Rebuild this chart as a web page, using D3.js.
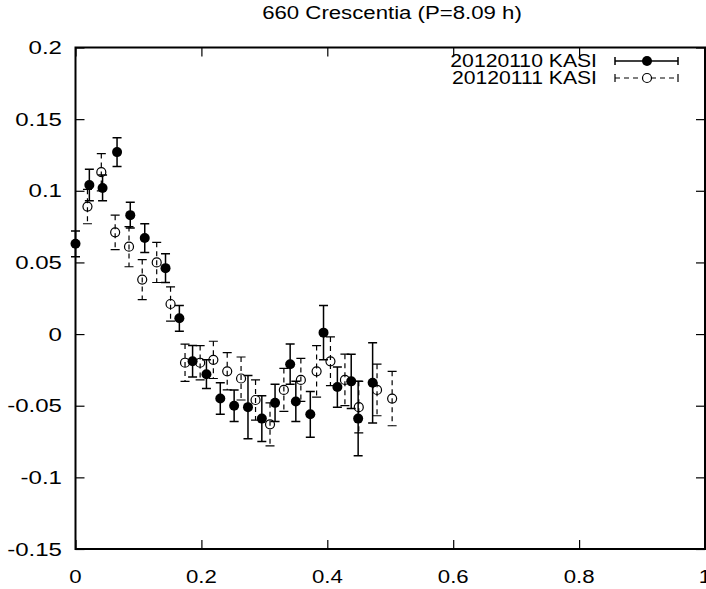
<!DOCTYPE html>
<html>
<head>
<meta charset="utf-8">
<script src="https://cdn.jsdelivr.net/npm/d3@7"></script>
<style>
  body { margin: 0; background: #fff; }
  #root { width: 706px; height: 589px; }
  text { font-family: "Liberation Sans", Arial, sans-serif; fill: #000; }
</style>
</head>
<body>
<div id="root"></div>
<script>
const root = document.getElementById('root');

// 20120110 KASI (filled)
const phase1 = [0.000, 0.022, 0.043, 0.066, 0.087, 0.110, 0.143, 0.165, 0.186, 0.208, 0.230, 0.252,
                0.274, 0.296, 0.317, 0.341, 0.350, 0.373, 0.394, 0.416, 0.438, 0.449, 0.472];
const mag1 = [0.063, 0.104, 0.102, 0.127, 0.083, 0.067, 0.046, 0.011, -0.019, -0.028, -0.045, -0.050,
              -0.051, -0.059, -0.048, -0.021, -0.047, -0.056, 0.001, -0.037, -0.033, -0.059, -0.034];
const err1 = [0.009, 0.011, 0.009, 0.010, 0.009, 0.010, 0.010, 0.009, 0.011, 0.010, 0.011, 0.011,
              0.022, 0.016, 0.013, 0.014, 0.014, 0.016, 0.019, 0.014, 0.019, 0.026, 0.028];

// 20120111 KASI (open)
const phase2 = [0.019, 0.041, 0.063, 0.085, 0.106, 0.129, 0.151, 0.174, 0.198, 0.219, 0.241,
                0.263, 0.286, 0.309, 0.331, 0.358, 0.383, 0.405, 0.428, 0.450, 0.479, 0.503];
const mag2 = [0.089, 0.113, 0.071, 0.061, 0.038, 0.050, 0.021, -0.020, -0.020, -0.018, -0.026,
              -0.031, -0.046, -0.063, -0.039, -0.032, -0.026, -0.019, -0.032, -0.051, -0.039, -0.045];
const err2 = [0.012, 0.013, 0.012, 0.014, 0.014, 0.014, 0.012, 0.013, 0.012, 0.013, 0.013,
              0.015, 0.014, 0.015, 0.015, 0.015, 0.018, 0.017, 0.018, 0.018, 0.018, 0.019];

const xTicks = [0, 0.2, 0.4, 0.6, 0.8, 1];
const yTicks = [-0.15, -0.1, -0.05, 0, 0.05, 0.1, 0.15, 0.2];
const seriesNames = ['20120110 KASI', '20120111 KASI'];
const title = '660 Crescentia (P=8.09 h)';

const width = 706;
const height = 589;
const plotL = 75.5, plotR = 705, plotT = 47.5, plotB = 549;
const tickLen = 9;
const cap = 4.5;
const fontSize = 18.5;
const stretch = 1.2;   // the reference lettering is a bit wide

const svg = d3.select(root)
    .append('svg')
    .attr('width', width)
    .attr('height', height);

const x = d3.scaleLinear().domain([0, 1]).range([plotL, plotR]);
const y = d3.scaleLinear().domain([-0.15, 0.2]).range([plotB, plotT]);

const fmt = d => String(+d.toFixed(2));

// text drawn widened around its anchor point
const wideText = (sel, tx, ty, anchor, sx, str, size) =>
    sel.append('text')
        .attr('transform', `translate(${tx},${ty}) scale(${sx},1)`)
        .attr('text-anchor', anchor)
        .style('font-size', `${size || fontSize}px`)
        .text(str);

// Axes (inward ticks, mirrored)
svg.append('g')
    .attr('transform', `translate(0,${plotB})`)
    .call(d3.axisTop(x).tickValues(xTicks).tickSize(tickLen).tickFormat(''))
    .call(g => g.select('.domain').remove());
svg.append('g')
    .attr('transform', `translate(0,${plotT})`)
    .call(d3.axisBottom(x).tickValues(xTicks).tickSize(tickLen).tickFormat(''))
    .call(g => g.select('.domain').remove());
svg.append('g')
    .attr('transform', `translate(${plotL},0)`)
    .call(d3.axisRight(y).tickValues(yTicks).tickSize(tickLen).tickFormat(''))
    .call(g => g.select('.domain').remove());
svg.append('g')
    .attr('transform', `translate(${plotR},0)`)
    .call(d3.axisLeft(y).tickValues(yTicks).tickSize(tickLen).tickFormat(''))
    .call(g => g.select('.domain').remove());
svg.selectAll('.tick line').attr('stroke', '#000').attr('stroke-width', 1.2);

// tick labels
const xLab = svg.append('g');
xTicks.forEach(d => wideText(xLab, x(d), 583, 'middle', stretch, fmt(d)));
const yLab = svg.append('g');
yTicks.forEach(d => wideText(yLab, 62, y(d) + 6.6, 'end', 1.3, fmt(d)));

wideText(svg, 392, 19, 'middle', stretch, title);

// Series 2: dashed error bars, open circles
const s2 = d3.range(phase2.length).map(i => ({ x: phase2[i], y: mag2[i], e: err2[i] }));
const g2 = svg.append('g').attr('stroke', '#000').attr('fill', 'none').attr('stroke-width', 1.2);
g2.selectAll('path.bar')
    .data(s2)
    .join('path')
    .attr('class', 'bar')
    .attr('stroke-dasharray', '5,4')
    .attr('d', d => `M${x(d.x)},${y(d.y + d.e)}V${y(d.y - d.e)}`);
g2.selectAll('path.cap')
    .data(s2)
    .join('path')
    .attr('class', 'cap')
    .attr('d', d => `M${x(d.x) - cap},${y(d.y + d.e)}H${x(d.x) + cap}M${x(d.x) - cap},${y(d.y - d.e)}H${x(d.x) + cap}`);
g2.selectAll('circle')
    .data(s2)
    .join('circle')
    .attr('cx', d => x(d.x))
    .attr('cy', d => y(d.y))
    .attr('r', 4.5);

// Series 1: solid error bars, filled circles
const s1 = d3.range(phase1.length).map(i => ({ x: phase1[i], y: mag1[i], e: err1[i] }));
const g1 = svg.append('g').attr('stroke', '#000').attr('stroke-width', 1.5);
g1.selectAll('path')
    .data(s1)
    .join('path')
    .attr('fill', 'none')
    .attr('d', d => `M${x(d.x)},${y(d.y + d.e)}V${y(d.y - d.e)}M${x(d.x) - cap},${y(d.y + d.e)}H${x(d.x) + cap}M${x(d.x) - cap},${y(d.y - d.e)}H${x(d.x) + cap}`);
g1.selectAll('circle')
    .data(s1)
    .join('circle')
    .attr('cx', d => x(d.x))
    .attr('cy', d => y(d.y))
    .attr('r', 5)
    .attr('fill', '#000')
    .attr('stroke', 'none');

// Legend
const legY = [61, 78];
const legend = svg.append('g');
seriesNames.forEach((name, i) => {
    wideText(legend, 597, legY[i] + 6.2, 'end', 1.21, name, 17.5);
    legend.append('path')
        .attr('stroke', '#000')
        .attr('fill', 'none')
        .attr('stroke-width', i === 0 ? 1.5 : 1.2)
        .attr('stroke-dasharray', i === 0 ? null : '5,4')
        .attr('d', `M615,${legY[i]}H678`);
    legend.append('path')
        .attr('stroke', '#000')
        .attr('stroke-width', i === 0 ? 1.5 : 1.2)
        .attr('d', `M615,${legY[i] - 4}V${legY[i] + 4}M678,${legY[i] - 4}V${legY[i] + 4}`);
    legend.append('circle')
        .attr('cx', 647)
        .attr('cy', legY[i])
        .attr('r', i === 0 ? 5 : 4.5)
        .attr('fill', i === 0 ? '#000' : '#fff')
        .attr('stroke', '#000')
        .attr('stroke-width', i === 0 ? 0 : 1.2);
});

// Border
svg.append('rect')
    .attr('x', plotL)
    .attr('y', plotT)
    .attr('width', plotR - plotL)
    .attr('height', plotB - plotT)
    .attr('fill', 'none')
    .attr('stroke', '#000')
    .attr('stroke-width', 2);
</script>
</body>
</html>
